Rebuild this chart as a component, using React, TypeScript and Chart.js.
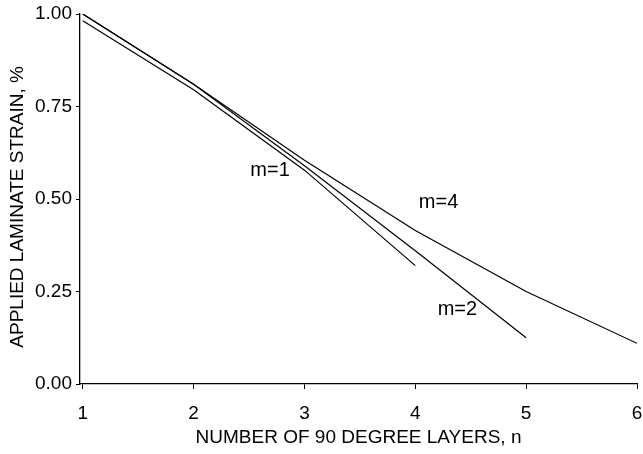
import React, { useEffect, useRef } from "react";
import { Chart, registerables } from "chart.js";

Chart.register(...registerables);

// Number of 90 degree layers
const nValues = [1, 2, 3, 4, 5, 6];
const xTicks = [1, 2, 3, 4, 5, 6];
// Applied laminate strain (%) per curve
const m1Strain = [0.982, 0.795, 0.578, 0.32];
const m2Strain = [1.0, 0.81, 0.59, 0.36, 0.125];
const m4Strain = [1.0, 0.81, 0.605, 0.415, 0.25, 0.11];

// Curve annotations: text and data-space anchor
const curveLabels = ["m=1", "m=2", "m=4"];
const curveLabelN = [2.69, 4.38, 4.21];
const curveLabelStrain = [0.576, 0.202, 0.49];

const yTicks = [0, 0.25, 0.5, 0.75, 1.0];
const xTitle = "NUMBER OF 90 DEGREE LAYERS, n";
const yTitle = "APPLIED LAMINATE STRAIN, %   ";

const FONT = "'Liberation Sans', Arial, sans-serif";

const toPoints = (vals: number[]) => vals.map((v, i) => ({ x: nValues[i], y: v }));

const labelPlugin = {
  id: "curveLabels",
  afterDatasetsDraw(chart: any) {
    const { ctx, scales } = chart;
    ctx.save();
    ctx.fillStyle = "#000";
    ctx.font = `20px ${FONT}`;
    ctx.textAlign = "center";
    ctx.textBaseline = "middle";
    curveLabels.forEach((t, i) => {
      ctx.fillText(t, scales.x.getPixelForValue(curveLabelN[i]), scales.y.getPixelForValue(curveLabelStrain[i]));
    });
    ctx.restore();
  },
};

export default function App() {
  const ref = useRef<HTMLCanvasElement>(null);
  useEffect(() => {
    if (!ref.current) return;
    const lineStyle = {
      borderColor: "#000",
      borderWidth: 1.2,
      pointRadius: 0,
      fill: false,
      tension: 0,
    };
    const chart = new Chart(ref.current, {
      type: "line",
      data: {
        datasets: [
          { label: "m=1", data: toPoints(m1Strain), ...lineStyle },
          { label: "m=2", data: toPoints(m2Strain), ...lineStyle },
          { label: "m=4", data: toPoints(m4Strain), ...lineStyle },
        ],
      },
      options: {
        animation: false,
        responsive: true,
        maintainAspectRatio: false,
        layout: { padding: { top: 14, right: 6, left: 0, bottom: 0 } },
        plugins: { legend: { display: false }, tooltip: { enabled: false } },
        elements: { line: { clip: false } as any },
        scales: {
          x: {
            type: "linear",
            min: 0.975,
            max: 6,
            afterBuildTicks: (s: any) => {
              s.ticks = xTicks.map((v) => ({ value: v }));
            },
            afterFit: (s: any) => {
              s.height = 70;
              s.paddingRight = 0;
              s.paddingLeft = 0;
            },
            ticks: {
              color: "#000",
              font: { family: FONT, size: 19 },
              padding: 13,
              maxRotation: 0,
            },
            grid: { drawOnChartArea: false, drawTicks: true, tickLength: 5, color: "#000" },
            border: { display: true, color: "#000", width: 1.3 },
            title: {
              display: true,
              text: xTitle,
              color: "#000",
              font: { family: FONT, size: 19 },
              padding: { top: 0, bottom: 5 },
            },
          },
          y: {
            type: "linear",
            min: 0,
            max: 1,
            afterBuildTicks: (s: any) => {
              s.ticks = yTicks.map((v) => ({ value: v }));
            },
            afterFit: (s: any) => {
              s.width = 80;
              s.paddingTop = 0;
              s.paddingBottom = 0;
            },
            ticks: {
              color: "#000",
              font: { family: FONT, size: 19 },
              padding: 4,
              callback: (v: any) => Number(v).toFixed(2),
            },
            grid: { drawOnChartArea: false, drawTicks: true, tickLength: 4, color: "#000" },
            border: { display: true, color: "#000", width: 1.3 },
            title: {
              display: true,
              text: yTitle,
              color: "#000",
              font: { family: FONT, size: 19 },
              padding: { top: 6, bottom: 0 },
            },
          },
        },
      },
      plugins: [labelPlugin],
    });
    return () => chart.destroy();
  }, []);
  return (
    <div style={{ position: "absolute", left: 0, top: 0, width: 643, height: 454, background: "#fff" }}>
      <canvas ref={ref} />
    </div>
  );
}
